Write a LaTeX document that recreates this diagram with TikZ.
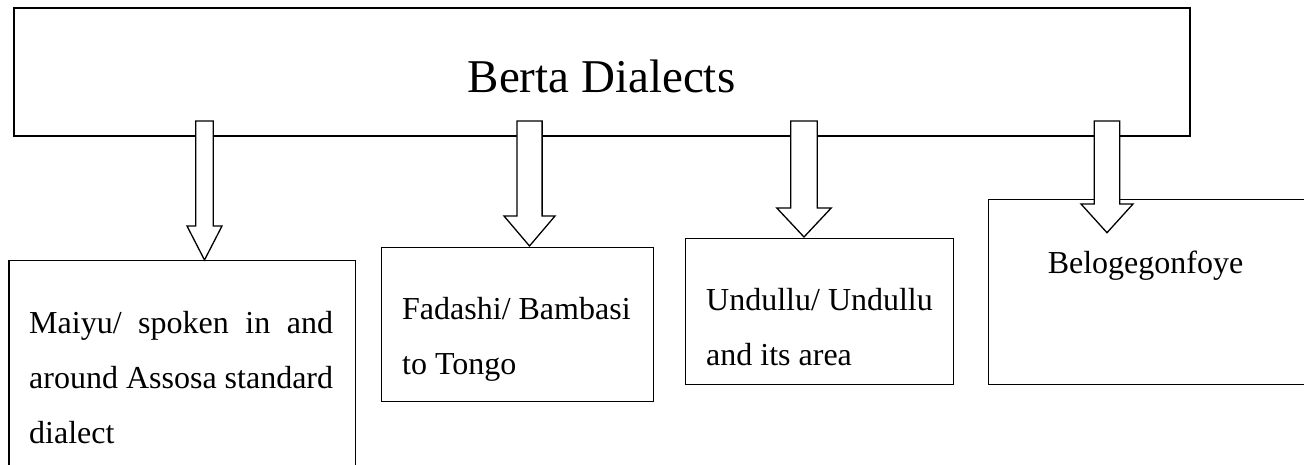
\documentclass[tikz,border=0pt]{standalone}
\usepackage{fontspec}
\setmainfont{Liberation Serif}
\usetikzlibrary{calc}

\tikzset{
  dialectbox/.style={draw, rectangle, line width=1.3pt, inner sep=0pt, anchor=north west},
  hollowarrow/.style={draw, fill=white, line width=1.3pt, line join=miter},
  boxtext/.style={anchor=base west, align=left, inner sep=0pt, font=\fontsize{32}{55}\selectfont},
}

\begin{document}
\begin{tikzpicture}[x=1pt,y=-1pt]
\clip (0,0) rectangle (1304,465);

\node[dialectbox, line width=2pt, minimum width=1176.3pt, minimum height=128.3pt] (berta) at (12.7,6.7) {};
\node[anchor=base, inner sep=0pt, font=\fontsize{47}{56}\selectfont] (title) at (601.5,93) {Berta Dialects};

\node[dialectbox, minimum width=346.7pt, minimum height=260pt] (maiyu) at (8.3,260) {};
\node[dialectbox, minimum width=271.7pt, minimum height=154pt] (fadashi) at (381,247) {};
\node[dialectbox, minimum width=268.2pt, minimum height=145.5pt] (undullu) at (684.5,238) {};
\node[dialectbox, minimum width=318pt, minimum height=185pt] (belog) at (988,199) {};

% base of a multi-line node = baseline of its last line
\node[boxtext] (maiyutext) at (29,443.3) {\makebox[304pt][s]{Maiyu/ spoken in and}\\around Assosa standard\\dialect};
\node[boxtext] (fadashitext) at (402,374.3) {Fadashi/ Bambasi\\to Tongo};
\node[boxtext] (undullutext) at (706,365) {Undullu/ Undullu\\and its area};
\node[anchor=base, inner sep=0pt, font=\fontsize{32}{55}\selectfont] (belogtext) at (1145.5,273) {Belogegonfoye};

% arrow tips and top of the shafts
\coordinate (shafttop) at ($(berta.south)+(0,-16)$);
\coordinate (t1) at ($(maiyu.north west)+(196.2,0)$);
\coordinate (t2) at ($(fadashi.north west)+(148.5,-1)$);
\coordinate (t3) at ($(undullu.north west)+(119.5,-1)$);
\coordinate (t4) at ($(belog.north west)+(119,33.7)$);

\foreach \tp/\sw/\hw/\hl in {t1/8.8/17.5/34, t2/12.6/25.5/30, t3/13.2/27.2/29, t4/12.8/26/28.7}
  \draw[hollowarrow] let \p1=(\tp), \p2=(shafttop) in
    (\p1) -- (\x1-\hw pt,\y1+\hl pt) -- (\x1-\sw pt,\y1+\hl pt) -- (\x1-\sw pt,\y2)
    -- (\x1+\sw pt,\y2) -- (\x1+\sw pt,\y1+\hl pt) -- (\x1+\hw pt,\y1+\hl pt) -- cycle;

\end{tikzpicture}
\end{document}
